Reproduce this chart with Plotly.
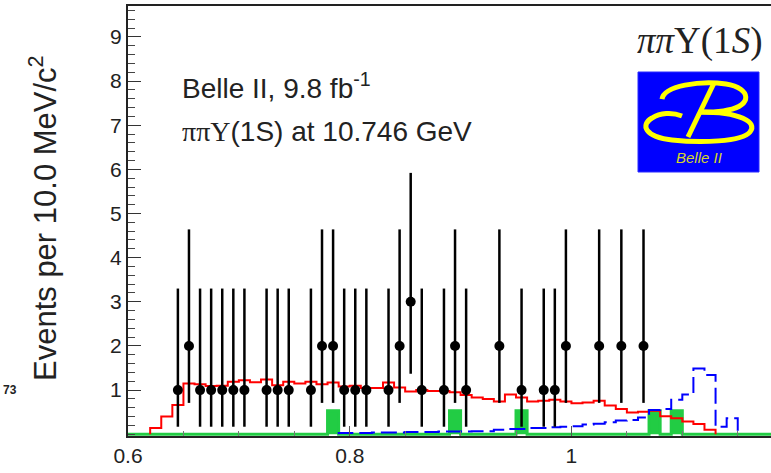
import plotly.graph_objects as go

# figure geometry (pixels)
W, H = 771, 473
ML, MR, MT, MB = 128, 0, 6, 37

# ---------------- data ----------------
BIN = 0.01  # 10 MeV bins

# data points (bin centres) and counts
data_x = [0.645, 0.655, 0.665, 0.675, 0.685, 0.695, 0.705, 0.725, 0.735, 0.745,
          0.765, 0.775, 0.785, 0.795, 0.805, 0.815, 0.835, 0.845, 0.855, 0.865,
          0.885, 0.895, 0.905, 0.935, 0.955, 0.975, 0.985, 0.995, 1.025, 1.045,
          1.065]
data_y = [1, 2, 1, 1, 1, 1, 1, 1, 1, 1,
          1, 2, 2, 1, 1, 1, 1, 2, 3, 1,
          1, 2, 1, 2, 1, 1, 1, 2, 2, 2,
          2]
# poisson error bar extents, by count
err_up_by_n = {1: 2.30, 2: 2.64, 3: 2.92}
err_dn_by_n = {1: 0.83, 2: 1.29, 3: 1.63}

# red histogram, first bin low edge 0.62
red_start = 0.62
red_vals = [0.14, 0.40, 0.66, 1.15, 1.13, 1.09, 1.10, 1.19, 1.22, 1.18,
            1.24, 1.11, 1.19, 1.15, 1.19, 1.13, 1.17, 1.08, 1.10, 1.05,
            1.05, 1.17, 1.06, 0.97, 1.00, 0.98, 0.98, 0.95, 0.89, 0.83,
            0.80, 0.74, 0.90, 0.83, 0.74, 0.76, 0.78, 0.74, 0.70, 0.72,
            0.76, 0.65, 0.57, 0.49, 0.51, 0.53, 0.41, 0.36, 0.29, 0.23,
            0.10]

# blue dashed histogram, first bin low edge 0.79
blue_start = 0.79
blue_vals = [0.03, 0.03, 0.03, 0.04, 0.04, 0.04, 0.05, 0.05, 0.05, 0.06,
             0.06, 0.06, 0.07, 0.07, 0.10, 0.12, 0.12, 0.14, 0.14, 0.16,
             0.17, 0.18, 0.22, 0.24, 0.27, 0.31, 0.32, 0.38, 0.55, 0.57,
             0.78, 0.90, 1.49, 1.34, 0.17, 0.36]

# green histogram: non-empty bins (centres) over an otherwise empty range
green_range = (0.60, 1.18)
green_bins = [0.785, 0.895, 0.955, 1.075, 1.095]
green_vals = [0.53, 0.53, 0.53, 0.53, 0.53]


def px(x):
    return (x - ML) / (W - ML - MR)


def py(y):
    return (H - MB - y) / (H - MT - MB)


def steps(lows, vals):
    xs = [lows[0]] + list(lows) + [lows[-1] + BIN]
    ys = [0] + list(vals) + [0]
    return xs, ys


red_lo = [round(red_start + BIN * i, 3) for i in range(len(red_vals))]
blue_lo = [round(blue_start + BIN * i, 3) for i in range(len(blue_vals))]

n_green = int(round((green_range[1] - green_range[0]) / BIN))
green_lo = [round(green_range[0] + BIN * i, 3) for i in range(n_green)]
green_full = [0.0] * n_green
for c, v in zip(green_bins, green_vals):
    green_full[int(round((c - BIN / 2 - green_range[0]) / BIN))] = v

fig = go.Figure()

gx, gy = steps(green_lo, green_full)
fig.add_trace(go.Scatter(x=gx, y=gy, mode="lines", line_shape="hv",
                         line=dict(color="#22cc44", width=3),
                         fill="tozeroy", fillcolor="#22cc44"))

rx, ry = steps(red_lo, red_vals)
fig.add_trace(go.Scatter(x=rx, y=ry, mode="lines", line_shape="hv",
                         line=dict(color="#ff0000", width=2)))

bx, by = steps(blue_lo, blue_vals)
fig.add_trace(go.Scatter(x=bx, y=by, mode="lines", line_shape="hv",
                         line=dict(color="#0000ff", width=2, dash="16px,6px")))

fig.add_trace(go.Scatter(
    x=data_x, y=data_y, mode="markers",
    marker=dict(color="black", size=10),
    error_y=dict(type="data", symmetric=False,
                 array=[err_up_by_n[n] for n in data_y],
                 arrayminus=[err_dn_by_n[n] for n in data_y],
                 color="black", thickness=2.5, width=0)))

font = "Liberation Sans, Arial, sans-serif"
serif = "Liberation Serif, Times New Roman, serif"

annotations = [
    dict(text="Belle II, 9.8 fb<sup>-1</sup>", x=px(180), y=py(86),
         xanchor="left", yanchor="middle", font=dict(size=28, family=font)),
    dict(text="<span style='font-family:Liberation Serif'>ππΥ</span>(1S) at 10.746 GeV",
         x=px(180), y=py(131), xanchor="left", yanchor="middle",
         font=dict(size=28, family=font)),
    dict(text="<i>ππ</i>Υ(1<i>S</i>)", x=px(764), y=py(41), xanchor="right",
         yanchor="middle", font=dict(size=37, family=serif)),
    dict(text="<i>Belle II</i>", x=px(699), y=py(157), xanchor="center",
         yanchor="middle", font=dict(size=15, family=font, color="#d6d62a")),
    dict(text="Events per 10.0 MeV/c<sup>2</sup>", x=px(43), y=py(218),
         textangle=-90, xanchor="center", yanchor="middle",
         font=dict(size=31, family=font)),
    dict(text="<b>73</b>", x=px(1), y=py(390), xanchor="left",
         yanchor="middle", font=dict(size=12, family=font)),
]
for a in annotations:
    a.update(xref="paper", yref="paper", showarrow=False)
    a["font"].setdefault("color", "#222222")


def path(points):
    # points: list of (cmd, [px,py,...]) in pixel coords -> paper path
    out = []
    for cmd, coords in points:
        pts = []
        for i in range(0, len(coords), 2):
            pts.append(f"{px(coords[i]):.4f},{py(coords[i + 1]):.4f}")
        out.append(cmd + " " + " ".join(pts))
    return " ".join(out)


logo_top = path([("M", [662, 99]), ("C", [664, 86, 700, 80, 726, 84]),
                 ("C", [752, 88, 752, 106, 728, 110]),
                 ("C", [716, 113, 706, 112, 700, 112])])
logo_low = path([("M", [700, 112]), ("C", [740, 112, 758, 122, 750, 132]),
                 ("C", [742, 142, 700, 143, 672, 140]),
                 ("C", [645, 137, 640, 125, 652, 118]),
                 ("C", [660, 113, 672, 112, 682, 116])])
logo_stem = path([("M", [714, 83]), ("L", [688, 137])])

shapes = [
    dict(type="rect", xref="paper", yref="paper", x0=px(638), x1=px(759),
         y0=py(172), y1=py(72), fillcolor="#0000ff",
         line=dict(color="#2a2aff", width=1)),
]
for p in (logo_top, logo_low, logo_stem):
    shapes.append(dict(type="path", xref="paper", yref="paper", path=p,
                       line=dict(color="#ffff00", width=5)))

fig.update_layout(
    width=W, height=H,
    margin=dict(l=ML, r=MR, t=MT, b=MB),
    plot_bgcolor="white", paper_bgcolor="white",
    showlegend=False,
    annotations=annotations,
    shapes=shapes,
    xaxis=dict(range=[0.6, 1.18], tickvals=[0.6, 0.8, 1.0],
               ticktext=["0.6", "0.8", "1"], ticks="inside", ticklen=10,
               tickcolor="#555", showgrid=False, zeroline=False,
               showline=True, linecolor="#222", linewidth=2, mirror=True,
               minor=dict(ticks="inside", ticklen=5, dtick=0.05,
                          tick0=0.6, tickcolor="#777"),
               tickfont=dict(size=21, family=font, color="#222"),
               automargin=False),
    yaxis=dict(range=[-0.04, 9.7], tickvals=list(range(1, 10)),
               ticks="inside", ticklen=13, tickcolor="#333",
               showgrid=False, zeroline=False, showline=True,
               linecolor="#222", linewidth=2,
               minor=dict(ticks="inside", ticklen=7, dtick=0.2, tick0=0,
                          tickcolor="#444"),
               tickfont=dict(size=21, family=font, color="#222"),
               automargin=False),
)

# page body has a default 8px margin; remove it so the figure fills the window
fig.write_html("out.html", config={"displayModeBar": False},
               post_script="document.body.style.margin='0';")
